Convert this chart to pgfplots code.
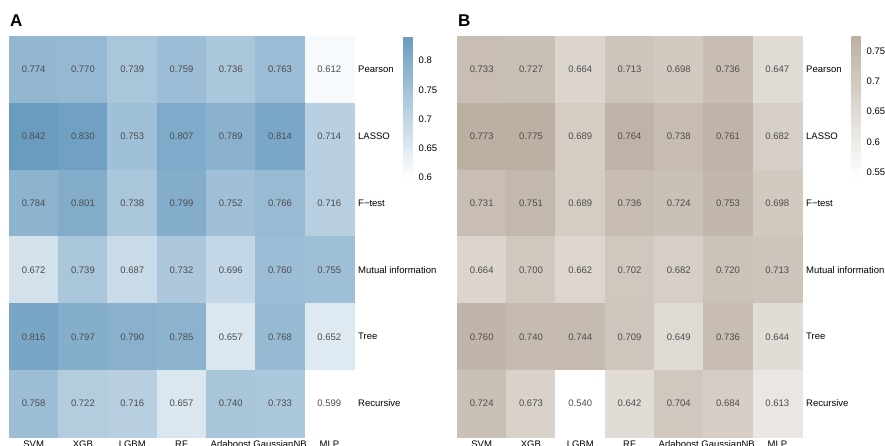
\documentclass[border=0pt]{standalone}
\usepackage{pgfplots}
\pgfplotsset{compat=1.18}
\usepackage{pgfplotstable}
\usepackage{fontspec}
\setmainfont{Liberation Sans}

\definecolor{numgray}{RGB}{77,77,77}

% AUC per feature-selection method (rows) and classifier (columns)
\pgfplotstableread{
x y c
0 0 0.774
1 0 0.770
2 0 0.739
3 0 0.759
4 0 0.736
5 0 0.763
6 0 0.612
0 1 0.842
1 1 0.830
2 1 0.753
3 1 0.807
4 1 0.789
5 1 0.814
6 1 0.714
0 2 0.784
1 2 0.801
2 2 0.738
3 2 0.799
4 2 0.752
5 2 0.766
6 2 0.716
0 3 0.672
1 3 0.739
2 3 0.687
3 3 0.732
4 3 0.696
5 3 0.760
6 3 0.755
0 4 0.816
1 4 0.797
2 4 0.790
3 4 0.785
4 4 0.657
5 4 0.768
6 4 0.652
0 5 0.758
1 5 0.722
2 5 0.716
3 5 0.657
4 5 0.740
5 5 0.733
6 5 0.599
}\dataA

\pgfplotstableread{
x y c
0 0 0.733
1 0 0.727
2 0 0.664
3 0 0.713
4 0 0.698
5 0 0.736
6 0 0.647
0 1 0.773
1 1 0.775
2 1 0.689
3 1 0.764
4 1 0.738
5 1 0.761
6 1 0.682
0 2 0.731
1 2 0.751
2 2 0.689
3 2 0.736
4 2 0.724
5 2 0.753
6 2 0.698
0 3 0.664
1 3 0.700
2 3 0.662
3 3 0.702
4 3 0.682
5 3 0.720
6 3 0.713
0 4 0.760
1 4 0.740
2 4 0.744
3 4 0.709
4 4 0.649
5 4 0.736
6 4 0.644
0 5 0.724
1 5 0.673
2 5 0.540
3 5 0.642
4 5 0.704
5 5 0.684
6 5 0.613
}\dataB

\pgfplotsset{
  heat/.style={
    scale only axis, width=345pt, height=401pt,
    xmin=-0.5, xmax=6.5, ymin=-0.5, ymax=5.5, y dir=reverse,
    axis line style={draw=none}, major tick length=0pt, tick style={draw=none},
    xtick={0,...,6},
    xticklabels={SVM,XGB,LGBM,RF,Adaboost,GaussianNB,MLP},
    ytick={0,...,5},
    yticklabels={Pearson,LASSO,F−test,Mutual information,Tree,Recursive},
    yticklabel pos=right,
    ticklabel style={font=\fontsize{9.5}{11}\selectfont},
    xticklabel style={anchor=north, inner sep=0pt, yshift=-3.5pt},
    yticklabel style={anchor=west, inner sep=0pt, xshift=4pt},
    colorbar,
  },
  cbar/.style={
    at={(parent axis.north east)}, anchor=north west, xshift=41pt,
    scale only axis, width=9pt, height=142pt,
    axis line style={draw=none}, major tick length=0pt, tick style={draw=none},
    yticklabel style={anchor=west, inner sep=0pt, xshift=6pt,
      font=\fontsize{9.5}{11}\selectfont},
  },
  % one filled tile per cell: 345/7 pt wide, 401/6 pt tall
  tiles/.style={
    scatter, only marks, mark=square*, point meta=explicit,
    mark size=24.643pt,
    mark options={yscale=1.3560, line width=0.3pt},
    scatter/use mapped color={draw=mapped color, fill=mapped color},
  },
  values/.style={
    draw=none, mark=none, point meta=explicit,
    nodes near coords={\pgfmathprintnumber[fixed,fixed zerofill,precision=3,assume math mode=true]{\pgfplotspointmeta}},
    every node near coord/.append style={anchor=center, text=numgray,
      inner sep=0pt, font=\fontsize{9.5}{11}\selectfont},
  },
}

\begin{document}
\begin{tikzpicture}
\path[use as bounding box, clip] (0,0) rectangle (885pt,446pt);

\begin{axis}[heat, at={(9pt,9pt)}, anchor=south west,
  colormap={bluemap}{rgb255=(255,255,255) rgb255=(106,156,192)},
  point meta min=0.599, point meta max=0.842,
  colorbar style={cbar,
    ytick={0.6,0.65,0.7,0.75,0.8},
    yticklabels={0.6,0.65,0.7,0.75,0.8}}]
  \addplot[tiles] table[x=x, y=y, meta=c] {\dataA};
  \addplot[values] table[x=x, y=y, meta=c] {\dataA};
\end{axis}

\begin{axis}[heat, at={(457pt,9pt)}, anchor=south west,
  colormap={tanmap}{rgb255=(255,255,255) rgb255=(188,176,163)},
  point meta min=0.540, point meta max=0.775,
  colorbar style={cbar,
    ytick={0.55,0.6,0.65,0.7,0.75},
    yticklabels={0.55,0.6,0.65,0.7,0.75}}]
  \addplot[tiles] table[x=x, y=y, meta=c] {\dataB};
  \addplot[values] table[x=x, y=y, meta=c] {\dataB};
\end{axis}

\node[anchor=base west, inner sep=0pt, font=\bfseries\fontsize{17}{20}\selectfont] at (10pt,419pt) {A};
\node[anchor=base west, inner sep=0pt, font=\bfseries\fontsize{17}{20}\selectfont] at (458pt,419pt) {B};
\end{tikzpicture}
\end{document}
